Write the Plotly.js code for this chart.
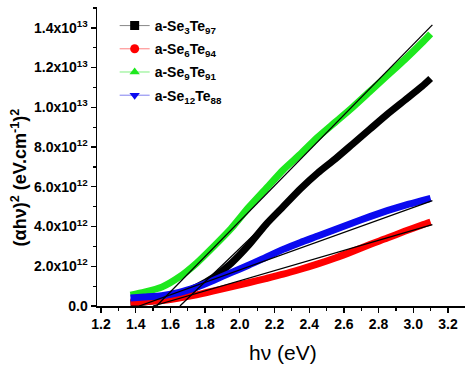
<!DOCTYPE html>
<html>
<head>
<meta charset="utf-8">
<script src="https://cdn.plot.ly/plotly-3.0.1.min.js"></script>
<style>
html,body{margin:0;padding:0;background:#fff;}
#chart{width:474px;height:371px;}
</style>
</head>
<body>
<div id="chart"></div>
<script>
// photon energy hv (eV) sample positions
var hv = [1.37, 1.45, 1.55, 1.65, 1.75, 1.85, 1.95, 2.05, 2.15, 2.25, 2.35, 2.45, 2.55, 2.65, 2.75, 2.85, 2.95, 3.05, 3.10];
// (alpha h nu)^2 in units of 1e12 (eV.cm^-1)^2
var se3te97  = [0.15, 0.20, 0.35, 0.60, 0.95, 1.45, 2.15, 3.05, 4.10, 5.00, 5.90, 6.70, 7.40, 8.15, 8.90, 9.65, 10.35, 11.05, 11.45];
var se6te94  = [0.20, 0.22, 0.27, 0.40, 0.56, 0.76, 0.97, 1.17, 1.38, 1.60, 1.85, 2.12, 2.42, 2.75, 3.10, 3.42, 3.76, 4.08, 4.23];
var se9te91  = [0.55, 0.70, 0.95, 1.45, 2.15, 3.00, 3.90, 4.95, 5.90, 6.85, 7.65, 8.50, 9.25, 10.00, 10.80, 11.60, 12.40, 13.25, 13.70];
var se12te88 = [0.40, 0.45, 0.52, 0.68, 0.95, 1.30, 1.68, 2.05, 2.45, 2.85, 3.20, 3.52, 3.85, 4.18, 4.50, 4.80, 5.07, 5.30, 5.42];

// straight-line extrapolations (end points)
var fitSe3X  = [1.655, 2.45], fitSe3Y  = [0, 6.68];
var fitSe6X  = [1.50, 3.11],  fitSe6Y  = [0, 4.10];
var fitSe9X  = [1.52, 3.11],  fitSe9Y  = [0, 14.15];
var fitSe12X = [1.42, 3.11],  fitSe12Y = [0, 5.30];

var names  = ['a-Se<sub>3</sub>Te<sub>97</sub>', 'a-Se<sub>6</sub>Te<sub>94</sub>', 'a-Se<sub>9</sub>Te<sub>91</sub>', 'a-Se<sub>12</sub>Te<sub>88</sub>'];
var series = [se3te97, se6te94, se9te91, se12te88];
var fitsX  = [fitSe3X, fitSe6X, fitSe9X, fitSe12X];
var fitsY  = [fitSe3Y, fitSe6Y, fitSe9Y, fitSe12Y];

var yTickVals = [0, 2, 4, 6, 8, 10, 12, 14];
var yTickText = ['0.0', '2.0x10<sup>12</sup>', '4.0x10<sup>12</sup>', '6.0x10<sup>12</sup>', '8.0x10<sup>12</sup>',
                 '1.0x10<sup>13</sup>', '1.2x10<sup>13</sup>', '1.4x10<sup>13</sup>'];
var xTickVals = [1.2, 1.4, 1.6, 1.8, 2.0, 2.2, 2.4, 2.6, 2.8, 3.0, 3.2];
var xTickText = ['1.2', '1.4', '1.6', '1.8', '2.0', '2.2', '2.4', '2.6', '2.8', '3.0', '3.2'];

var colors  = ['#000000', '#ff0000', '#1ee81e', '#0a0af0'];
var lcolors = ['#888888', '#ff8080', '#80f080', '#8080f0'];
var symbols = ['square', 'circle', 'triangle-up', 'triangle-down'];

var traces = [];
for (var i = 0; i < 4; i++) {
  traces.push({x: hv, y: series[i], mode: 'lines', showlegend: false, hoverinfo: 'skip',
    line: {color: colors[i], width: 7, shape: 'spline', smoothing: 0.6}});
}
for (var j = 0; j < 4; j++) {
  traces.push({x: fitsX[j], y: fitsY[j], mode: 'lines', showlegend: false, hoverinfo: 'skip',
    line: {color: '#000000', width: 1.3}});
}
for (var k = 0; k < 4; k++) {
  traces.push({x: [null], y: [null], mode: 'lines+markers', name: names[k], legendgroup: 'g' + k,
    line: {color: lcolors[k], width: 1},
    marker: {color: colors[k], symbol: symbols[k], size: 9}});
}

var fam = 'Arial, "Liberation Sans", sans-serif';
var tickFont = {family: fam, size: 14, color: '#000', weight: 700};

var layout = {
  width: 474, height: 371,
  margin: {l: 97, r: 9, t: 7, b: 65},
  paper_bgcolor: '#fff', plot_bgcolor: '#fff',
  showlegend: true,
  legend: {x: 0.048, y: 0.99, xanchor: 'left', yanchor: 'top', bgcolor: 'rgba(0,0,0,0)',
    font: {family: fam, size: 14, color: '#000', weight: 700},
    tracegroupgap: 2, itemwidth: 30},
  xaxis: {range: [1.177, 3.298], tickvals: xTickVals, ticktext: xTickText,
    showgrid: false, zeroline: false, showline: true, linecolor: '#000', linewidth: 1.5,
    ticks: 'outside', ticklen: 5, tickwidth: 1.3, tickcolor: '#000', tickfont: tickFont,
    minor: {dtick: 0.1, tick0: 1.2, ticks: 'outside', ticklen: 3, tickwidth: 1.2, tickcolor: '#000', showgrid: false}},
  yaxis: {range: [0, 15.05], tickvals: yTickVals, ticktext: yTickText,
    showgrid: false, zeroline: false, showline: true, linecolor: '#000', linewidth: 1.5,
    ticks: 'outside', ticklen: 5, tickwidth: 1.3, tickcolor: '#000', tickfont: tickFont,
    minor: {dtick: 1, tick0: 0, ticks: 'outside', ticklen: 3, tickwidth: 1.2, tickcolor: '#000', showgrid: false}},
  annotations: [
    {text: '(\u03b1h\u03bd)<sup>2</sup> (eV.cm<sup>-1</sup>)<sup>2</sup>', textangle: -90,
     xref: 'paper', yref: 'paper', x: -0.212, y: 0.43, xanchor: 'center', yanchor: 'middle', showarrow: false,
     font: {family: fam, size: 18, color: '#000', weight: 700}},
    {text: 'h\u03bd (eV)', xref: 'paper', yref: 'paper', x: 0.505, y: -0.157, xanchor: 'center', yanchor: 'middle',
     showarrow: false, font: {family: fam, size: 21, color: '#000'}}
  ]
};

Plotly.newPlot('chart', traces, layout, {displayModeBar: false, staticPlot: true});
</script>
</body>
</html>
